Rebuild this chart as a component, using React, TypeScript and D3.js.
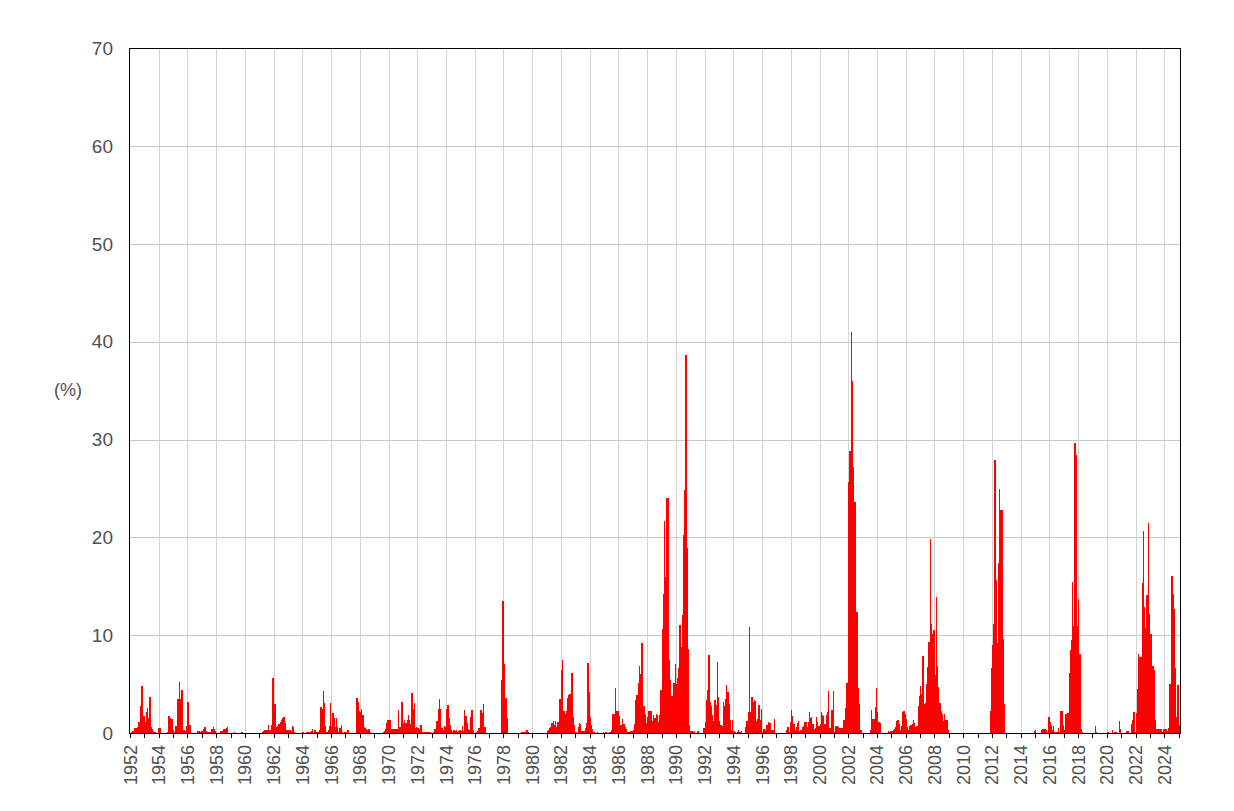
import React from "react";
import * as d3 from "d3";

const startYear = 1952;
const monthly: number[][] = [
  [0, 0.1, 0.2, 0.5, 0.5, 0.5, 0.6, 1.1, 2.8, 4.8, 4.8, 1.7], // 1952
  [1.1, 2.1, 2.6, 1.5, 3.7, 0.6, 0.4, 0.2, 0.1, 0.1, 0, 0.5],
  [0.5, 0.5, 0, 0, 0, 0, 0, 0.1, 1.7, 1.5, 1.4, 1.4],
  [0.3, 0.1, 0.7, 3.5, 3.5, 5.2, 3.5, 4.4, 0.3, 0.3, 0.2, 0.7],
  [3.2, 0.85, 0.85, 0, 0, 0, 0, 0, 0.2, 0.2, 0.1, 0.2], // 1956
  [0.2, 0.4, 0.6, 0.2, 0.1, 0.1, 0.1, 0.1, 0.4, 0.6, 0.4, 0.2],
  [0, 0, 0, 0.2, 0.2, 0.2, 0.4, 0.4, 0.5, 0.6, 0, 0],
  [0, 0, 0, 0.1, 0, 0, 0, 0, 0, 0.1, 0, 0],
  [0, 0, 0, 0, 0, 0, 0, 0, 0, 0, 0, 0], // 1960
  [0, 0, 0.1, 0.2, 0.3, 0.3, 0.3, 0.8, 0.3, 0.3, 0.8, 5.6],
  [3.0, 3.0, 0.6, 0.7, 0.9, 1.1, 1.3, 1.5, 1.6, 1.0, 0.3, 0.3],
  [0.35, 0.3, 0.2, 0.7, 0.6, 0.1, 0, 0, 0, 0, 0, 0],
  [0.1, 0, 0, 0.1, 0.1, 0.1, 0.1, 0.2, 0.4, 0.1, 0.3, 0.1], // 1964
  [0.1, 0.1, 0.3, 2.7, 2.5, 4.3, 3.1, 0.7, 0.1, 0.3, 0.7, 3.1],
  [0.7, 2.0, 1.5, 0.6, 1.5, 0.6, 0.1, 0.5, 0.8, 0.1, 0, 0.1],
  [0.1, 0.3, 0.3, 0, 0, 0, 0, 0, 0, 3.6, 3.2, 2.3],
  [2.1, 2.5, 1.8, 0.6, 0.5, 0.4, 0.3, 0.4, 0.1, 0, 0, 0], // 1968
  [0, 0, 0, 0, 0, 0, 0, 0.1, 0.2, 0.4, 1.0, 1.3],
  [1.3, 1.3, 0.4, 0.4, 0.4, 0.4, 0.4, 0.4, 2.4, 0.6, 3.2, 3.2],
  [1.0, 1.3, 1.0, 1.3, 1.8, 1.3, 0.9, 4.1, 2.5, 3.1, 0.5, 0.6],
  [0.5, 0.4, 0.8, 0.8, 0.1, 0.1, 0.1, 0.1, 0.1, 0.1, 0.1, 0], // 1972
  [0, 0.1, 0.4, 0.4, 1.2, 2.5, 3.5, 2.5, 0.5, 0.3, 0.7, 0.6],
  [2.5, 2.9, 1.5, 0.8, 0.3, 0.1, 0.3, 0.2, 0.3, 0.1, 0.2, 0.3],
  [0.2, 0.7, 0.2, 2.4, 1.7, 1.0, 0.4, 0.3, 1.6, 2.4, 0.3, 0],
  [0, 0.1, 0.2, 0.5, 2.4, 2.4, 2.0, 3.0, 0.6, 0, 0, 0], // 1976
  [0, 0, 0, 0, 0, 0, 0, 0, 0, 0, 5.4, 13.5],
  [7.1, 3.6, 3.6, 1.5, 0, 0, 0, 0, 0, 0, 0, 0],
  [0, 0, 0, 0.15, 0.15, 0.15, 0.15, 0.3, 0.15, 0, 0, 0],
  [0, 0, 0, 0, 0, 0, 0, 0, 0, 0, 0, 0], // 1980
  [0.2, 0.3, 0.5, 0.6, 1.0, 1.2, 0.8, 1.2, 0.6, 1.1, 3.5, 3.5],
  [6.4, 7.5, 2.2, 1.9, 2.3, 3.6, 3.9, 4.0, 6.1, 6.1, 1.6, 0.85],
  [0.15, 0, 0.65, 1.0, 0.9, 0.17, 0.17, 0.17, 0.5, 1.0, 7.2, 4.2],
  [1.6, 0.85, 0.4, 0.15, 0, 0, 0.15, 0, 0, 0, 0, 0.15], // 1984
  [0, 0.15, 0, 0, 0.15, 0.15, 0.3, 1.9, 1.9, 4.6, 2.2, 2.3],
  [1.7, 0.8, 0.8, 1.4, 0.9, 0.6, 0.4, 0.15, 0.15, 0.15, 0.25, 0.25],
  [0.3, 0.9, 3.4, 3.9, 5.1, 6.9, 6.0, 9.2, 2.8, 2.8, 1.9, 1.0],
  [1.6, 2.3, 2.2, 2.2, 1.2, 1.8, 1.5, 1.9, 1.8, 1.1, 1.8, 4.4], // 1988
  [10.6, 14.2, 21.7, 16.0, 24.0, 24.0, 7.5, 5.4, 3.8, 3.8, 5.1, 7.1],
  [5.0, 5.6, 6.6, 11.0, 8.8, 12.1, 20.2, 24.8, 38.7, 18.9, 8.6, 0.8],
  [0.2, 0.2, 0.15, 0.2, 0, 0, 0.2, 0, 0, 0, 0, 0.5],
  [1.1, 3.4, 4.4, 8.0, 3.2, 2.8, 1.8, 1.2, 3.4, 2.9, 7.3, 3.7], // 1992
  [1.2, 0.8, 0.7, 3.2, 2.8, 3.5, 4.9, 4.2, 3.0, 1.3, 0.3, 1.3],
  [0.2, 0.1, 0, 0.1, 0.3, 0.1, 0.2, 0, 0, 0, 0.6, 1.2],
  [2.1, 10.8, 2.1, 3.7, 3.2, 3.4, 3.3, 1.2, 1.4, 2.9, 1.3, 2.5],
  [0.15, 0.4, 0.3, 0.8, 0.8, 1.1, 1.0, 0.3, 0.3, 0.3, 1.4, 0], // 1996
  [0, 0, 0, 0, 0, 0, 0, 0, 0.3, 0.6, 0.15, 1.1],
  [2.4, 1.7, 0.9, 0.3, 0.6, 1.0, 1.2, 0.2, 0.3, 0.6, 0.7, 1.1],
  [1.1, 0.6, 1.1, 2.1, 1.5, 1.6, 0.9, 0.4, 0.5, 1.6, 1.1, 0.75],
  [0.9, 2.1, 1.8, 1.7, 0.9, 1.8, 2.1, 4.3, 0.5, 0.5, 2.4, 4.3], // 2000
  [0.1, 0.75, 0.75, 0.6, 0.5, 0.5, 0.5, 0.5, 1.3, 2.6, 5.1, 5.1],
  [25.7, 28.8, 41.0, 36.0, 27.2, 23.6, 12.4, 12.4, 4.6, 3.0, 0.3, 0],
  [0, 0, 0, 0, 0, 0, 0.3, 2.4, 1.4, 1.4, 2.7, 4.6],
  [2.1, 1.1, 1.0, 0, 0, 0, 0, 0, 0, 0.2, 0.1, 0.2], // 2004
  [0.2, 0.3, 0.4, 0.6, 1.2, 1.3, 0.9, 0.3, 0.75, 2.1, 2.2, 1.9],
  [1.4, 0.6, 0.35, 0.75, 0.8, 0.9, 1.3, 1.0, 0.6, 0.75, 2.8, 3.8],
  [4.8, 4.0, 7.9, 3.0, 3.1, 5.0, 6.7, 9.3, 19.8, 11.1, 10.1, 10.5],
  [5.9, 13.9, 6.9, 4.7, 3.1, 2.3, 1.9, 1.2, 1.9, 1.3, 1.3, 0.3], // 2008
  [0, 0, 0, 0, 0, 0, 0, 0, 0, 0, 0, 0],
  [0, 0, 0, 0, 0, 0, 0, 0, 0, 0, 0, 0],
  [0, 0, 0, 0, 0, 0, 0, 0, 0, 0, 2.2, 6.6],
  [9.0, 11.1, 27.9, 15.6, 9.2, 17.4, 25.0, 22.8, 22.8, 9.6, 3.0, 0], // 2012
  [0, 0, 0, 0, 0, 0, 0, 0, 0, 0, 0, 0],
  [0, 0, 0, 0, 0, 0, 0, 0, 0, 0, 0, 0.2],
  [0.3, 0, 0, 0, 0, 0.3, 0.4, 0.4, 0.45, 0.3, 0.1, 1.6],
  [1.1, 0.8, 0.35, 0.7, 0.1, 0.1, 0.1, 0.55, 0.1, 2.2, 2.2, 0.8], // 2016
  [0.3, 1.9, 1.9, 2.0, 6.1, 8.5, 9.5, 15.4, 10.9, 29.7, 28.4, 10.9],
  [13.7, 8.1, 0.45, 0.15, 0, 0, 0, 0, 0, 0, 0, 0],
  [0, 0, 0.7, 0.1, 0, 0, 0, 0, 0, 0, 0, 0],
  [0.15, 0.15, 0, 0, 0.35, 0, 0.15, 0.15, 0, 0, 1.2, 0.45], // 2020
  [0, 0, 0, 0, 0.2, 0.2, 0, 0, 0.9, 1.3, 2.1, 0.1],
  [2.0, 4.5, 8.1, 7.8, 7.8, 15.3, 20.7, 12.9, 10.7, 14.1, 21.5, 12.2],
  [10.1, 10.1, 6.9, 6.4, 1.3, 0.45, 0.45, 0.45, 0.45, 0.45, 0.1, 0.45],
  [0.45, 0.45, 0.2, 0.55, 5.0, 5.0, 16.1, 14.2, 12.7, 6.6, 1.6, 4.9], // 2024
  [0.8], // 2025
];

const yTicks = [0, 10, 20, 30, 40, 50, 60, 70];
const yearTicks = d3.range(1952, 2026);
const yearLabels = d3.range(1952, 2025, 2);
const yTitle = "(%)";

const W = 1234;
const H = 811;
const left = 130;
const right = 1180.5;
const top = 48.5;
const bottom = 733;
const domainEnd = 1952 + (right - left) / 14.365;

export default function App() {
  const x = d3.scaleLinear().domain([startYear, domainEnd]).range([left, right]);
  const y = d3.scaleLinear().domain([0, 70]).range([bottom, top]);

  const bars: { t: number; v: number }[] = [];
  monthly.forEach((row, yi) => {
    row.forEach((v, m) => {
      bars.push({ t: startYear + yi + m / 12, v });
    });
  });

  const textColor = "#505050";
  const font = "'Liberation Sans', Arial, sans-serif";

  return (
    <svg
      width={W}
      height={H}
      style={{ position: "absolute", left: 0, top: 0, background: "#fff" }}
      fontFamily={font}
    >
      <rect x={0} y={0} width={W} height={H} fill="#fff" />
      {/* grid */}
      {yTicks.slice(1, -1).map((t) => (
        <line
          key={"gy" + t}
          x1={left}
          x2={right}
          y1={Math.round(y(t)) + 0.5}
          y2={Math.round(y(t)) + 0.5}
          stroke="#c8c8c8"
          strokeWidth={1}
        />
      ))}
      {yearLabels.slice(1).map((yr) => (
        <line
          key={"gx" + yr}
          x1={Math.round(x(yr)) + 0.5}
          x2={Math.round(x(yr)) + 0.5}
          y1={top}
          y2={bottom}
          stroke="#d3d3d3"
          strokeWidth={1}
        />
      ))}
      {/* bars */}
      <g fill="#ff0000" shapeRendering="crispEdges">
        {bars
          .filter((b) => b.v > 0)
          .map((b, i) => {
            const x0 = x(b.t);
            const x1 = x(b.t + 1 / 12);
            return (
              <rect
                key={i}
                x={x0}
                y={y(b.v)}
                width={x1 - x0 + 0.15}
                height={bottom - y(b.v)}
              />
            );
          })}
      </g>
      {/* frame */}
      <rect
        x={left - 0.5}
        y={top}
        width={right - left + 0.5}
        height={bottom - top}
        fill="none"
        stroke="#000"
        strokeWidth={1}
        shapeRendering="crispEdges"
      />
      {/* x ticks */}
      {yearTicks.map((yr) => (
        <line
          key={"tx" + yr}
          x1={Math.round(x(yr)) + 0.5}
          x2={Math.round(x(yr)) + 0.5}
          y1={bottom}
          y2={bottom + 5}
          stroke="#000"
          strokeWidth={1}
        />
      ))}
      {/* x labels */}
      {yearLabels.map((yr) => (
        <text
          key={"lx" + yr}
          transform={`translate(${x(yr) + 0.5},${bottom + 12}) rotate(-90)`}
          textAnchor="end"
          dominantBaseline="central"
          fontSize={18}
          fill={textColor}
        >
          {yr}
        </text>
      ))}
      {/* y labels */}
      {yTicks.map((t) => (
        <text
          key={"ly" + t}
          x={113}
          y={y(t)}
          textAnchor="end"
          dominantBaseline="central"
          fontSize={19}
          fill={textColor}
        >
          {t}
        </text>
      ))}
      <text
        x={68}
        y={390}
        textAnchor="middle"
        dominantBaseline="central"
        fontSize={18}
        fill={textColor}
      >
        {yTitle}
      </text>
    </svg>
  );
}
